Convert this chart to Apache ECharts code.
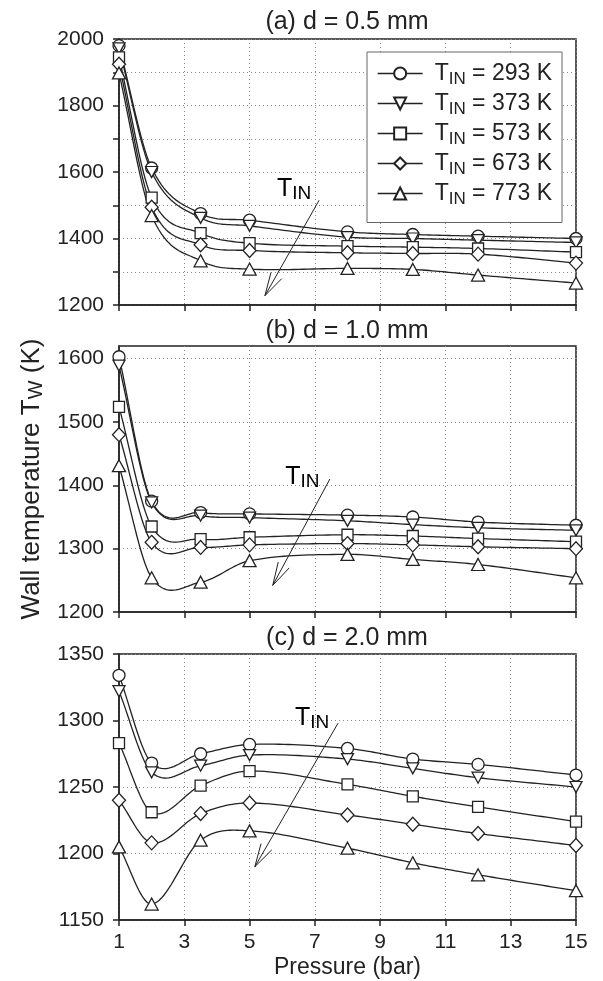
<!DOCTYPE html>
<html>
<head>
<meta charset="UTF-8">
<title>Wall temperature vs pressure</title>
<style>html,body{margin:0;padding:0;background:#fff;}</style>
</head>
<body>
<div id="box" style="width:603px;height:981px;"></div>
<script src="https://cdn.jsdelivr.net/npm/echarts@6/dist/echarts.min.js"></script>
<script>
// pressure points (bar) and x ticks
const pressure = [1, 2, 3.5, 5, 8, 10, 12, 15];
const xTicks = [1, 3, 5, 7, 9, 11, 13, 15];
const inletTemps = ['293', '373', '573', '673', '773'];

// (a) d = 0.5 mm
const a293 = [1980, 1612, 1475, 1455, 1420, 1412, 1407, 1400];
const a373 = [1972, 1600, 1462, 1438, 1404, 1400, 1395, 1388];
const a573 = [1945, 1523, 1416, 1386, 1377, 1374, 1370, 1359];
const a673 = [1924, 1494, 1381, 1364, 1357, 1355, 1353, 1326];
const a773 = [1898, 1469, 1333, 1308, 1310, 1307, 1290, 1266];

// (b) d = 1.0 mm
const b293 = [1603, 1375, 1357, 1355, 1353, 1350, 1342, 1337];
const b373 = [1589, 1373, 1352, 1349, 1344, 1338, 1333, 1329];
const b573 = [1524, 1335, 1315, 1318, 1322, 1320, 1316, 1311];
const b673 = [1480, 1310, 1302, 1306, 1308, 1306, 1303, 1300];
const b773 = [1431, 1254, 1247, 1281, 1291, 1283, 1275, 1254];

// (c) d = 2.0 mm
const c293 = [1334, 1268, 1275, 1282, 1279, 1271, 1267, 1259];
const c373 = [1322, 1261, 1266, 1274, 1271, 1264, 1257, 1250];
const c573 = [1283, 1231, 1251, 1262, 1252, 1243, 1235, 1224];
const c673 = [1240, 1208, 1230, 1238, 1229, 1222, 1215, 1206];
const c773 = [1205, 1162, 1210, 1217, 1204, 1193, 1184, 1172];

// y tick labels
const yLabelsA = [1200, 1400, 1600, 1800, 2000];
const yTicksB = [1200, 1300, 1400, 1500, 1600];
const panelTitles = ['(a) d = 0.5 mm', '(b) d = 1.0 mm', '(c) d = 2.0 mm'];

// "T_IN" arrows: [x start, y start, x tip, y tip, x label, y label]
const arrowA = [7.13, 1515, 5.47, 1228, 5.84, 1548];
const arrowB = [7.46, 1410, 5.71, 1242, 6.09, 1413];
const arrowC = [7.71, 1298, 5.16, 1190, 6.39, 1302];

const FONT = '"Liberation Sans", Arial, sans-serif';
const INK = '#222';

const panels = [
    [a293, a373, a573, a673, a773],
    [b293, b373, b573, b673, b773],
    [c293, c373, c573, c673, c773]
];

const markers = [
    { symbol: 'circle', size: 12 },
    { symbol: 'path://M0,0L12,0L6,11Z', size: [12, 11] },
    { symbol: 'rect', size: 11 },
    { symbol: 'diamond', size: [13, 14] },
    { symbol: 'triangle', size: [13, 12] }
];

const tinRich = {
    t: { fontSize: 25, fontFamily: FONT, color: INK, lineHeight: 28 },
    s: { fontSize: 19, fontFamily: FONT, color: INK, lineHeight: 10, verticalAlign: 'bottom' }
};

// markers only; the curve itself is drawn by curveSeries
function markerSeries(idx, k, values) {
    return {
        type: 'line',
        name: inletTemps[k],
        xAxisIndex: idx,
        yAxisIndex: idx,
        data: pressure.map((p, i) => [p, values[i]]),
        symbol: markers[k].symbol,
        symbolSize: markers[k].size,
        showAllSymbol: true,
        lineStyle: { color: INK, width: 1.3, opacity: 0 },
        itemStyle: { color: '#fff', borderColor: INK, borderWidth: 1.3 },
        emphasis: { disabled: true },
        z: 3
    };
}

// cubic Hermite spline through the points, like the original plotting tool
function curveSeries(idx) {
    const curves = panels[idx];
    return {
        type: 'custom',
        xAxisIndex: idx,
        yAxisIndex: idx,
        data: curves.map((c, k) => [pressure[0], c[0], k]),
        encode: { x: 0, y: 1 },
        silent: true,
        z: 2,
        renderItem: function (params, api) {
            const vals = curves[api.value(2)];
            const n = pressure.length;
            const m = vals.map((v, i) => {
                const i0 = Math.max(i - 1, 0), i1 = Math.min(i + 1, n - 1);
                return (vals[i1] - vals[i0]) / (pressure[i1] - pressure[i0]);
            });
            const pts = [];
            for (let i = 0; i < n - 1; i++) {
                const h = pressure[i + 1] - pressure[i];
                for (let s = (i === 0 ? 0 : 1); s <= 20; s++) {
                    const t = s / 20, t2 = t * t, t3 = t2 * t;
                    const y = (2 * t3 - 3 * t2 + 1) * vals[i] + (t3 - 2 * t2 + t) * h * m[i]
                        + (-2 * t3 + 3 * t2) * vals[i + 1] + (t3 - t2) * h * m[i + 1];
                    pts.push(api.coord([pressure[i] + t * h, y]));
                }
            }
            return { type: 'polyline', shape: { points: pts }, style: { stroke: INK, lineWidth: 1.3, fill: null } };
        }
    };
}

function arrowSeries(idx, arr) {
    return {
        type: 'custom',
        xAxisIndex: idx,
        yAxisIndex: idx,
        data: [arr],
        encode: { x: [0, 2, 4], y: [1, 3, 5] },
        silent: true,
        z: 4,
        renderItem: function (params, api) {
            const p1 = api.coord([api.value(0), api.value(1)]);
            const p2 = api.coord([api.value(2), api.value(3)]);
            const lp = api.coord([api.value(4), api.value(5)]);
            const ang = Math.atan2(p1[1] - p2[1], p1[0] - p2[0]);
            const hl = 24, ha = 15 * Math.PI / 180;
            const h1 = [p2[0] + hl * Math.cos(ang + ha), p2[1] + hl * Math.sin(ang + ha)];
            const h2 = [p2[0] + hl * Math.cos(ang - ha), p2[1] + hl * Math.sin(ang - ha)];
            return {
                type: 'group',
                children: [
                    { type: 'line', shape: { x1: p1[0], y1: p1[1], x2: p2[0], y2: p2[1] },
                      style: { stroke: INK, lineWidth: 1 } },
                    { type: 'polyline', shape: { points: [h1, p2, h2] },
                      style: { stroke: INK, fill: null, lineWidth: 1 } },
                    { type: 'text', x: lp[0], y: lp[1],
                      style: { text: '{t|T}{s|IN}', rich: tinRich, align: 'left', verticalAlign: 'middle' } }
                ]
            };
        }
    };
}

const gridTops = [39, 346, 654];
const grids = gridTops.map(t => ({
    left: 119, right: 27, top: t, height: 266,
    show: true, borderColor: INK, borderWidth: 1.5
}));

const splitStyle = { show: true, lineStyle: { color: '#888', width: 1, type: [1, 3] } };
const tickLabel = {
    fontSize: 21, fontFamily: FONT, color: INK, margin: 15,
    formatter: v => String(v)
};

const xAxes = [0, 1, 2].map(i => ({
    type: 'value',
    gridIndex: i,
    min: 1,
    max: 15,
    axisLine: { lineStyle: { color: INK, width: 1.5 } },
    axisTick: { show: true, length: 6, customValues: xTicks, lineStyle: { color: INK, width: 1.5 } },
    axisLabel: Object.assign({}, tickLabel, { show: i === 2, customValues: xTicks, margin: 12 }),
    splitLine: splitStyle,
    name: i === 2 ? 'Pressure (bar)' : '',
    nameLocation: 'middle',
    nameGap: 36,
    nameTextStyle: { fontSize: 23, fontFamily: FONT, color: INK }
}));

const yAxisBase = {
    type: 'value',
    axisLine: { show: true, lineStyle: { color: INK, width: 1.5 } },
    axisTick: { show: true, length: 6, lineStyle: { color: INK, width: 1.5 } },
    splitLine: splitStyle
};

const yAxes = [
    Object.assign({}, yAxisBase, {
        gridIndex: 0, min: 1200, max: 2000, interval: 100,
        axisLabel: Object.assign({ customValues: yLabelsA }, tickLabel)
    }),
    Object.assign({}, yAxisBase, {
        gridIndex: 1, min: 1200, max: 1620, interval: 100,
        axisTick: { show: true, length: 6, customValues: yTicksB, lineStyle: { color: INK, width: 1.5 } },
        axisLabel: Object.assign({ customValues: yTicksB }, tickLabel),
        name: '{a|Wall temperature T}{b|W}{a| (K)}',
        nameLocation: 'middle',
        nameRotate: 90,
        nameGap: 71,
        nameTextStyle: {
            rich: {
                a: { fontSize: 26, fontFamily: FONT, color: INK, lineHeight: 30 },
                b: { fontSize: 20, fontFamily: FONT, color: INK, lineHeight: 12, verticalAlign: 'bottom' }
            }
        }
    }),
    Object.assign({}, yAxisBase, {
        gridIndex: 2, min: 1150, max: 1350, interval: 50,
        axisLabel: tickLabel
    })
];

const series = [];
panels.forEach((panel, idx) => {
    series.push(curveSeries(idx));
    panel.forEach((vals, k) => series.push(markerSeries(idx, k, vals)));
});
series.push(arrowSeries(0, arrowA), arrowSeries(1, arrowB), arrowSeries(2, arrowC));

const option = {
    animation: false,
    backgroundColor: '#fff',
    grid: grids,
    xAxis: xAxes,
    yAxis: yAxes,
    legend: {
        data: inletTemps,
        orient: 'vertical',
        left: 367,
        top: 52,
        padding: [10, 10, 15, 10],
        itemGap: 4.5,
        itemWidth: 45,
        itemHeight: 15,
        backgroundColor: '#fff',
        borderColor: '#666',
        borderWidth: 1,
        z: 10,
        selectedMode: false,
        lineStyle: { color: INK, width: 1.3, opacity: 1 },
        formatter: function (name) {
            return '{t|T}{s|IN}{r| = ' + name + ' K}';
        },
        textStyle: {
            rich: {
                t: { fontSize: 23, fontFamily: FONT, color: INK, lineHeight: 28, padding: [0, 0, 0, 7] },
                s: { fontSize: 17, fontFamily: FONT, color: INK, lineHeight: 10, verticalAlign: 'bottom' },
                r: { fontSize: 23, fontFamily: FONT, color: INK, lineHeight: 28 }
            }
        }
    },
    graphic: panelTitles.map((txt, i) => ({
        type: 'text',
        x: 347,
        y: [22, 331, 638][i],
        style: {
            text: txt,
            font: 'normal 25px ' + FONT,
            fill: INK,
            align: 'center',
            verticalAlign: 'middle'
        }
    })),
    series: series
};

const myChart = echarts.init(document.getElementById('box'));
myChart.setOption(option);
</script>
</body>
</html>
